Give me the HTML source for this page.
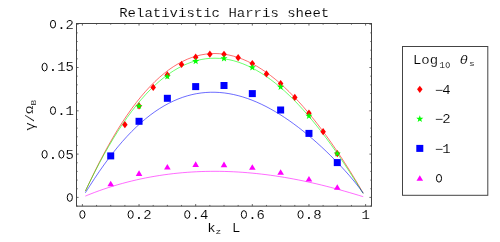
<!DOCTYPE html>
<html><head><meta charset="utf-8"><title>Relativistic Harris sheet</title>
<style>html,body{margin:0;padding:0;background:#fff;}svg{display:block;}</style></head>
<body>
<svg width="500" height="242" viewBox="0 0 500 242" font-family="'Liberation Mono', monospace" fill="#000">
<rect width="500" height="242" fill="#fff"/>
<path d="M85.37,191.13 C86.15,189.49 88.46,184.55 90.00,181.33 C91.55,178.11 93.09,174.92 94.63,171.79 C96.18,168.67 97.72,165.60 99.26,162.59 C100.81,159.58 102.35,156.63 103.89,153.75 C105.44,150.86 106.98,148.04 108.53,145.28 C110.07,142.52 111.61,139.82 113.16,137.19 C114.70,134.55 116.24,131.98 117.79,129.48 C119.33,126.98 120.87,124.53 122.42,122.16 C123.96,119.78 125.50,117.47 127.05,115.22 C128.59,112.98 130.13,110.79 131.68,108.67 C133.22,106.55 134.76,104.50 136.31,102.51 C137.85,100.51 139.39,98.59 140.94,96.72 C142.48,94.86 144.02,93.06 145.57,91.32 C147.11,89.58 148.65,87.90 150.20,86.29 C151.74,84.68 153.28,83.12 154.83,81.64 C156.37,80.15 157.92,78.72 159.46,77.35 C161.00,75.99 162.55,74.68 164.09,73.44 C165.63,72.19 167.18,71.01 168.72,69.88 C170.26,68.76 171.81,67.70 173.35,66.69 C174.89,65.69 176.44,64.74 177.98,63.86 C179.52,62.97 181.07,62.15 182.61,61.38 C184.15,60.61 185.70,59.90 187.24,59.24 C188.78,58.59 190.33,57.99 191.87,57.45 C193.41,56.91 194.96,56.43 196.50,56.00 C198.04,55.58 199.59,55.21 201.13,54.89 C202.68,54.57 204.22,54.31 205.76,54.11 C207.31,53.90 208.85,53.75 210.39,53.66 C211.94,53.56 213.48,53.52 215.02,53.52 C216.57,53.53 218.11,53.60 219.65,53.71 C221.20,53.83 222.74,54.00 224.28,54.22 C225.83,54.44 227.37,54.71 228.91,55.03 C230.46,55.35 232.00,55.72 233.54,56.15 C235.09,56.57 236.63,57.04 238.17,57.57 C239.72,58.09 241.26,58.66 242.80,59.28 C244.35,59.90 245.89,60.57 247.43,61.29 C248.98,62.01 250.52,62.77 252.07,63.58 C253.61,64.40 255.15,65.26 256.70,66.16 C258.24,67.07 259.78,68.02 261.33,69.02 C262.87,70.01 264.41,71.06 265.96,72.14 C267.50,73.23 269.04,74.37 270.59,75.54 C272.13,76.72 273.67,77.94 275.22,79.20 C276.76,80.47 278.30,81.77 279.85,83.12 C281.39,84.47 282.93,85.87 284.48,87.30 C286.02,88.73 287.56,90.21 289.11,91.73 C290.65,93.24 292.19,94.80 293.74,96.40 C295.28,98.00 296.82,99.63 298.37,101.31 C299.91,102.99 301.46,104.71 303.00,106.46 C304.54,108.22 306.09,110.01 307.63,111.84 C309.17,113.67 310.72,115.54 312.26,117.45 C313.80,119.36 315.35,121.30 316.89,123.28 C318.43,125.27 319.98,127.28 321.52,129.34 C323.06,131.39 324.61,133.48 326.15,135.60 C327.69,137.73 329.24,139.89 330.78,142.08 C332.32,144.27 333.87,146.50 335.41,148.77 C336.95,151.03 338.50,153.33 340.04,155.66 C341.58,157.99 343.13,160.35 344.67,162.75 C346.21,165.14 347.76,167.57 349.30,170.04 C350.85,172.50 352.39,175.00 353.93,177.53 C355.48,180.06 357.02,182.62 358.56,185.22 C360.11,187.83 362.42,191.83 363.19,193.15" fill="none" stroke="#ff0000" stroke-width="0.58"/>
<path d="M85.37,191.15 C86.15,189.55 88.46,184.70 90.00,181.55 C91.55,178.40 93.09,175.30 94.63,172.27 C96.18,169.23 97.72,166.26 99.26,163.34 C100.81,160.43 102.35,157.58 103.89,154.79 C105.44,152.00 106.98,149.27 108.53,146.61 C110.07,143.94 111.61,141.34 113.16,138.80 C114.70,136.26 116.24,133.79 117.79,131.37 C119.33,128.96 120.87,126.61 122.42,124.32 C123.96,122.03 125.50,119.81 127.05,117.64 C128.59,115.48 130.13,113.38 131.68,111.34 C133.22,109.30 134.76,107.32 136.31,105.40 C137.85,103.49 139.39,101.63 140.94,99.84 C142.48,98.04 144.02,96.31 145.57,94.64 C147.11,92.97 148.65,91.35 150.20,89.80 C151.74,88.25 153.28,86.76 154.83,85.32 C156.37,83.89 157.92,82.51 159.46,81.20 C161.00,79.88 162.55,78.63 164.09,77.43 C165.63,76.23 167.18,75.09 168.72,74.01 C170.26,72.93 171.81,71.90 173.35,70.93 C174.89,69.97 176.44,69.05 177.98,68.20 C179.52,67.35 181.07,66.55 182.61,65.81 C184.15,65.06 185.70,64.38 187.24,63.75 C188.78,63.12 190.33,62.54 191.87,62.02 C193.41,61.50 194.96,61.03 196.50,60.62 C198.04,60.20 199.59,59.85 201.13,59.54 C202.68,59.23 204.22,58.98 205.76,58.78 C207.31,58.58 208.85,58.43 210.39,58.34 C211.94,58.24 213.48,58.20 215.02,58.21 C216.57,58.22 218.11,58.28 219.65,58.39 C221.20,58.50 222.74,58.66 224.28,58.87 C225.83,59.08 227.37,59.34 228.91,59.65 C230.46,59.96 232.00,60.32 233.54,60.73 C235.09,61.14 236.63,61.60 238.17,62.10 C239.72,62.60 241.26,63.16 242.80,63.76 C244.35,64.36 245.89,65.01 247.43,65.70 C248.98,66.39 250.52,67.13 252.07,67.92 C253.61,68.71 255.15,69.54 256.70,70.42 C258.24,71.30 259.78,72.22 261.33,73.19 C262.87,74.15 264.41,75.17 265.96,76.22 C267.50,77.28 269.04,78.38 270.59,79.52 C272.13,80.66 273.67,81.85 275.22,83.08 C276.76,84.31 278.30,85.58 279.85,86.89 C281.39,88.20 282.93,89.56 284.48,90.95 C286.02,92.35 287.56,93.79 289.11,95.26 C290.65,96.74 292.19,98.26 293.74,99.81 C295.28,101.37 296.82,102.96 298.37,104.60 C299.91,106.23 301.46,107.90 303.00,109.62 C304.54,111.33 306.09,113.08 307.63,114.86 C309.17,116.65 310.72,118.47 312.26,120.33 C313.80,122.19 315.35,124.09 316.89,126.02 C318.43,127.95 319.98,129.92 321.52,131.92 C323.06,133.92 324.61,135.96 326.15,138.03 C327.69,140.09 329.24,142.20 330.78,144.34 C332.32,146.47 333.87,148.64 335.41,150.84 C336.95,153.04 338.50,155.28 340.04,157.54 C341.58,159.80 343.13,162.10 344.67,164.42 C346.21,166.74 347.76,169.09 349.30,171.47 C350.85,173.85 352.39,176.26 353.93,178.69 C355.48,181.12 357.02,183.58 358.56,186.05 C360.11,188.53 362.42,192.28 363.19,193.53" fill="none" stroke="#00ff00" stroke-width="0.58"/>
<path d="M85.37,192.80 C86.15,191.59 88.46,187.92 90.00,185.52 C91.55,183.13 93.09,180.75 94.63,178.42 C96.18,176.09 97.72,173.80 99.26,171.56 C100.81,169.32 102.35,167.12 103.89,164.97 C105.44,162.82 106.98,160.71 108.53,158.66 C110.07,156.60 111.61,154.60 113.16,152.64 C114.70,150.68 116.24,148.77 117.79,146.92 C119.33,145.06 120.87,143.25 122.42,141.49 C123.96,139.73 125.50,138.02 127.05,136.36 C128.59,134.70 130.13,133.09 131.68,131.53 C133.22,129.97 134.76,128.45 136.31,126.99 C137.85,125.53 139.39,124.11 140.94,122.75 C142.48,121.38 144.02,120.06 145.57,118.80 C147.11,117.53 148.65,116.31 150.20,115.13 C151.74,113.96 153.28,112.84 154.83,111.76 C156.37,110.68 157.92,109.65 159.46,108.67 C161.00,107.68 162.55,106.74 164.09,105.85 C165.63,104.96 167.18,104.12 168.72,103.31 C170.26,102.51 171.81,101.76 173.35,101.05 C174.89,100.34 176.44,99.67 177.98,99.05 C179.52,98.43 181.07,97.86 182.61,97.32 C184.15,96.79 185.70,96.30 187.24,95.85 C188.78,95.40 190.33,95.00 191.87,94.64 C193.41,94.27 194.96,93.95 196.50,93.67 C198.04,93.39 199.59,93.16 201.13,92.96 C202.68,92.76 204.22,92.60 205.76,92.49 C207.31,92.37 208.85,92.29 210.39,92.25 C211.94,92.22 213.48,92.22 215.02,92.26 C216.57,92.30 218.11,92.38 219.65,92.49 C221.20,92.61 222.74,92.76 224.28,92.95 C225.83,93.14 227.37,93.37 228.91,93.63 C230.46,93.89 232.00,94.19 233.54,94.53 C235.09,94.86 236.63,95.23 238.17,95.64 C239.72,96.04 241.26,96.48 242.80,96.95 C244.35,97.43 245.89,97.93 247.43,98.47 C248.98,99.01 250.52,99.59 252.07,100.19 C253.61,100.80 255.15,101.43 256.70,102.10 C258.24,102.77 259.78,103.47 261.33,104.21 C262.87,104.94 264.41,105.70 265.96,106.49 C267.50,107.28 269.04,108.11 270.59,108.96 C272.13,109.81 273.67,110.69 275.22,111.60 C276.76,112.51 278.30,113.45 279.85,114.42 C281.39,115.39 282.93,116.38 284.48,117.41 C286.02,118.43 287.56,119.48 289.11,120.56 C290.65,121.63 292.19,122.74 293.74,123.87 C295.28,124.99 296.82,126.15 298.37,127.33 C299.91,128.51 301.46,129.72 303.00,130.95 C304.54,132.19 306.09,133.44 307.63,134.73 C309.17,136.01 310.72,137.32 312.26,138.65 C313.80,139.98 315.35,141.34 316.89,142.72 C318.43,144.10 319.98,145.50 321.52,146.93 C323.06,148.36 324.61,149.82 326.15,151.30 C327.69,152.78 329.24,154.28 330.78,155.81 C332.32,157.34 333.87,158.89 335.41,160.48 C336.95,162.06 338.50,163.67 340.04,165.31 C341.58,166.95 343.13,168.62 344.67,170.32 C346.21,172.02 347.76,173.75 349.30,175.53 C350.85,177.31 352.39,179.12 353.93,180.99 C355.48,182.87 357.02,184.76 358.56,186.79 C360.11,188.83 362.42,192.14 363.19,193.21" fill="none" stroke="#0000ff" stroke-width="0.58"/>
<path d="M85.37,196.09 C86.15,195.77 88.46,194.80 90.00,194.19 C91.55,193.57 93.09,192.98 94.63,192.40 C96.18,191.82 97.72,191.25 99.26,190.70 C100.81,190.15 102.35,189.61 103.89,189.08 C105.44,188.56 106.98,188.05 108.53,187.55 C110.07,187.05 111.61,186.57 113.16,186.09 C114.70,185.62 116.24,185.16 117.79,184.71 C119.33,184.27 120.87,183.83 122.42,183.41 C123.96,182.99 125.50,182.58 127.05,182.18 C128.59,181.78 130.13,181.39 131.68,181.02 C133.22,180.64 134.76,180.28 136.31,179.93 C137.85,179.58 139.39,179.24 140.94,178.91 C142.48,178.58 144.02,178.26 145.57,177.95 C147.11,177.65 148.65,177.35 150.20,177.07 C151.74,176.79 153.28,176.51 154.83,176.25 C156.37,175.99 157.92,175.74 159.46,175.50 C161.00,175.26 162.55,175.03 164.09,174.81 C165.63,174.59 167.18,174.38 168.72,174.19 C170.26,173.99 171.81,173.80 173.35,173.62 C174.89,173.45 176.44,173.28 177.98,173.13 C179.52,172.97 181.07,172.83 182.61,172.69 C184.15,172.56 185.70,172.43 187.24,172.32 C188.78,172.20 190.33,172.10 191.87,172.00 C193.41,171.91 194.96,171.82 196.50,171.75 C198.04,171.67 199.59,171.61 201.13,171.55 C202.68,171.49 204.22,171.45 205.76,171.41 C207.31,171.38 208.85,171.35 210.39,171.33 C211.94,171.32 213.48,171.31 215.02,171.31 C216.57,171.31 218.11,171.32 219.65,171.34 C221.20,171.36 222.74,171.39 224.28,171.43 C225.83,171.47 227.37,171.52 228.91,171.58 C230.46,171.63 232.00,171.70 233.54,171.78 C235.09,171.85 236.63,171.94 238.17,172.03 C239.72,172.12 241.26,172.23 242.80,172.34 C244.35,172.45 245.89,172.57 247.43,172.69 C248.98,172.82 250.52,172.96 252.07,173.11 C253.61,173.25 255.15,173.41 256.70,173.57 C258.24,173.73 259.78,173.90 261.33,174.08 C262.87,174.26 264.41,174.45 265.96,174.64 C267.50,174.84 269.04,175.04 270.59,175.26 C272.13,175.47 273.67,175.69 275.22,175.92 C276.76,176.15 278.30,176.38 279.85,176.63 C281.39,176.87 282.93,177.12 284.48,177.38 C286.02,177.64 287.56,177.91 289.11,178.19 C290.65,178.46 292.19,178.74 293.74,179.04 C295.28,179.33 296.82,179.62 298.37,179.93 C299.91,180.24 301.46,180.55 303.00,180.87 C304.54,181.19 306.09,181.52 307.63,181.85 C309.17,182.19 310.72,182.53 312.26,182.88 C313.80,183.23 315.35,183.58 316.89,183.95 C318.43,184.31 319.98,184.68 321.52,185.06 C323.06,185.43 324.61,185.82 326.15,186.21 C327.69,186.60 329.24,186.99 330.78,187.40 C332.32,187.80 333.87,188.21 335.41,188.63 C336.95,189.04 338.50,189.46 340.04,189.89 C341.58,190.32 343.13,190.75 344.67,191.19 C346.21,191.63 347.76,192.07 349.30,192.52 C350.85,192.97 352.39,193.43 353.93,193.89 C355.48,194.35 357.02,194.81 358.56,195.28 C360.11,195.74 362.42,196.45 363.19,196.68" fill="none" stroke="#ff00ff" stroke-width="0.58"/>
<polygon points="124.88,121.05 127.63,124.70 124.88,128.35 122.13,124.70" fill="#ff0000"/>
<polygon points="139.04,102.25 141.79,105.90 139.04,109.55 136.29,105.90" fill="#ff0000"/>
<polygon points="153.20,83.75 155.95,87.40 153.20,91.05 150.45,87.40" fill="#ff0000"/>
<polygon points="167.36,71.35 170.11,75.00 167.36,78.65 164.61,75.00" fill="#ff0000"/>
<polygon points="181.52,60.75 184.27,64.40 181.52,68.05 178.77,64.40" fill="#ff0000"/>
<polygon points="195.68,53.55 198.43,57.20 195.68,60.85 192.93,57.20" fill="#ff0000"/>
<polygon points="209.84,50.55 212.59,54.20 209.84,57.85 207.09,54.20" fill="#ff0000"/>
<polygon points="224.00,50.65 226.75,54.30 224.00,57.95 221.25,54.30" fill="#ff0000"/>
<polygon points="238.16,54.05 240.91,57.70 238.16,61.35 235.41,57.70" fill="#ff0000"/>
<polygon points="252.32,59.95 255.07,63.60 252.32,67.25 249.57,63.60" fill="#ff0000"/>
<polygon points="266.48,70.25 269.23,73.90 266.48,77.55 263.73,73.90" fill="#ff0000"/>
<polygon points="280.64,79.95 283.39,83.60 280.64,87.25 277.89,83.60" fill="#ff0000"/>
<polygon points="294.80,93.75 297.55,97.40 294.80,101.05 292.05,97.40" fill="#ff0000"/>
<polygon points="308.96,109.55 311.71,113.20 308.96,116.85 306.21,113.20" fill="#ff0000"/>
<polygon points="323.12,128.05 325.87,131.70 323.12,135.35 320.37,131.70" fill="#ff0000"/>
<polygon points="337.28,149.95 340.03,153.60 337.28,157.25 334.53,153.60" fill="#ff0000"/>
<polygon points="139.04,102.40 139.92,104.89 142.56,104.96 140.47,106.56 141.21,109.09 139.04,107.60 136.87,109.09 137.61,106.56 135.52,104.96 138.16,104.89" fill="#00ff00"/>
<polygon points="167.36,72.90 168.24,75.39 170.88,75.46 168.79,77.06 169.53,79.59 167.36,78.10 165.19,79.59 165.93,77.06 163.84,75.46 166.48,75.39" fill="#00ff00"/>
<polygon points="195.68,57.50 196.56,59.99 199.20,60.06 197.11,61.66 197.85,64.19 195.68,62.70 193.51,64.19 194.25,61.66 192.16,60.06 194.80,59.99" fill="#00ff00"/>
<polygon points="224.00,54.70 224.88,57.19 227.52,57.26 225.43,58.86 226.17,61.39 224.00,59.90 221.83,61.39 222.57,58.86 220.48,57.26 223.12,57.19" fill="#00ff00"/>
<polygon points="252.32,63.80 253.20,66.29 255.84,66.36 253.75,67.96 254.49,70.49 252.32,69.00 250.15,70.49 250.89,67.96 248.80,66.36 251.44,66.29" fill="#00ff00"/>
<polygon points="280.64,83.30 281.52,85.79 284.16,85.86 282.07,87.46 282.81,89.99 280.64,88.50 278.47,89.99 279.21,87.46 277.12,85.86 279.76,85.79" fill="#00ff00"/>
<polygon points="308.96,112.30 309.84,114.79 312.48,114.86 310.39,116.46 311.13,118.99 308.96,117.50 306.79,118.99 307.53,116.46 305.44,114.86 308.08,114.79" fill="#00ff00"/>
<polygon points="337.28,149.90 338.16,152.39 340.80,152.46 338.71,154.06 339.45,156.59 337.28,155.10 335.11,156.59 335.85,154.06 333.76,152.46 336.40,152.39" fill="#00ff00"/>
<rect x="107.22" y="152.40" width="7.00" height="7.00" fill="#0000ff"/>
<rect x="135.54" y="117.80" width="7.00" height="7.00" fill="#0000ff"/>
<rect x="163.86" y="94.80" width="7.00" height="7.00" fill="#0000ff"/>
<rect x="192.18" y="83.10" width="7.00" height="7.00" fill="#0000ff"/>
<rect x="220.50" y="82.00" width="7.00" height="7.00" fill="#0000ff"/>
<rect x="248.82" y="90.10" width="7.00" height="7.00" fill="#0000ff"/>
<rect x="277.14" y="106.50" width="7.00" height="7.00" fill="#0000ff"/>
<rect x="305.46" y="129.90" width="7.00" height="7.00" fill="#0000ff"/>
<rect x="333.78" y="159.10" width="7.00" height="7.00" fill="#0000ff"/>
<polygon points="110.72,180.70 114.02,186.30 107.42,186.30" fill="#ff00ff"/>
<polygon points="139.04,170.30 142.34,175.90 135.74,175.90" fill="#ff00ff"/>
<polygon points="167.36,163.90 170.66,169.50 164.06,169.50" fill="#ff00ff"/>
<polygon points="195.68,161.30 198.98,166.90 192.38,166.90" fill="#ff00ff"/>
<polygon points="224.00,161.60 227.30,167.20 220.70,167.20" fill="#ff00ff"/>
<polygon points="252.32,164.20 255.62,169.80 249.02,169.80" fill="#ff00ff"/>
<polygon points="280.64,169.20 283.94,174.80 277.34,174.80" fill="#ff00ff"/>
<polygon points="308.96,175.90 312.26,181.50 305.66,181.50" fill="#ff00ff"/>
<polygon points="337.28,184.20 340.58,189.80 333.98,189.80" fill="#ff00ff"/>
<rect x="76.50" y="23.50" width="295.00" height="182.65" fill="none" stroke="#444444" stroke-width="1"/>
<path d="M82.40,206.15 v-2.10 M82.40,23.50 v2.10 M96.56,206.15 v-1.20 M96.56,23.50 v1.20 M110.72,206.15 v-1.20 M110.72,23.50 v1.20 M124.88,206.15 v-1.20 M124.88,23.50 v1.20 M139.04,206.15 v-2.10 M139.04,23.50 v2.10 M153.20,206.15 v-1.20 M153.20,23.50 v1.20 M167.36,206.15 v-1.20 M167.36,23.50 v1.20 M181.52,206.15 v-1.20 M181.52,23.50 v1.20 M195.68,206.15 v-2.10 M195.68,23.50 v2.10 M209.84,206.15 v-1.20 M209.84,23.50 v1.20 M224.00,206.15 v-1.20 M224.00,23.50 v1.20 M238.16,206.15 v-1.20 M238.16,23.50 v1.20 M252.32,206.15 v-2.10 M252.32,23.50 v2.10 M266.48,206.15 v-1.20 M266.48,23.50 v1.20 M280.64,206.15 v-1.20 M280.64,23.50 v1.20 M294.80,206.15 v-1.20 M294.80,23.50 v1.20 M308.96,206.15 v-2.10 M308.96,23.50 v2.10 M323.12,206.15 v-1.20 M323.12,23.50 v1.20 M337.28,206.15 v-1.20 M337.28,23.50 v1.20 M351.44,206.15 v-1.20 M351.44,23.50 v1.20 M365.60,206.15 v-2.10 M365.60,23.50 v2.10 M76.50,206.06 h1.20 M371.50,206.06 h-1.20 M76.50,197.40 h2.10 M371.50,197.40 h-2.10 M76.50,188.74 h1.20 M371.50,188.74 h-1.20 M76.50,180.08 h1.20 M371.50,180.08 h-1.20 M76.50,171.42 h1.20 M371.50,171.42 h-1.20 M76.50,162.76 h1.20 M371.50,162.76 h-1.20 M76.50,154.10 h2.10 M371.50,154.10 h-2.10 M76.50,145.44 h1.20 M371.50,145.44 h-1.20 M76.50,136.78 h1.20 M371.50,136.78 h-1.20 M76.50,128.12 h1.20 M371.50,128.12 h-1.20 M76.50,119.46 h1.20 M371.50,119.46 h-1.20 M76.50,110.80 h2.10 M371.50,110.80 h-2.10 M76.50,102.14 h1.20 M371.50,102.14 h-1.20 M76.50,93.48 h1.20 M371.50,93.48 h-1.20 M76.50,84.82 h1.20 M371.50,84.82 h-1.20 M76.50,76.16 h1.20 M371.50,76.16 h-1.20 M76.50,67.50 h2.10 M371.50,67.50 h-2.10 M76.50,58.84 h1.20 M371.50,58.84 h-1.20 M76.50,50.18 h1.20 M371.50,50.18 h-1.20 M76.50,41.52 h1.20 M371.50,41.52 h-1.20 M76.50,32.86 h1.20 M371.50,32.86 h-1.20 M76.50,24.20 h2.10 M371.50,24.20 h-2.10" stroke="#444444" stroke-width="0.8" fill="none"/>
<rect x="402.5" y="46.5" width="85.3" height="148.8" fill="#fff" stroke="#444444" stroke-width="1"/>
<polygon points="419.80,85.65 422.55,89.30 419.80,92.95 417.05,89.30" fill="#ff0000"/>
<polygon points="419.80,115.30 420.68,117.79 423.32,117.86 421.23,119.46 421.97,121.99 419.80,120.50 417.63,121.99 418.37,119.46 416.28,117.86 418.92,117.79" fill="#00ff00"/>
<rect x="416.30" y="144.90" width="7.00" height="7.00" fill="#0000ff"/>
<polygon points="419.80,175.20 423.10,180.80 416.50,180.80" fill="#ff00ff"/>
<g stroke="#fff" stroke-width="0.12" opacity="0.999">
<ellipse cx="53.00" cy="24.18" rx="2.58" ry="3.87" fill="none" stroke="#000" stroke-width="1.00"/><text transform="translate(61.40,28.50) scale(1,0.850)" font-size="14" text-anchor="middle" stroke="none" >.</text><text transform="translate(69.80,28.50) scale(1,0.920)" font-size="14" text-anchor="middle" >2</text>
<ellipse cx="44.60" cy="67.08" rx="2.58" ry="3.87" fill="none" stroke="#000" stroke-width="1.00"/><text transform="translate(53.00,71.40) scale(1,0.850)" font-size="14" text-anchor="middle" stroke="none" >.</text><text transform="translate(61.40,71.40) scale(1,0.920)" font-size="14" text-anchor="middle" >1</text><text transform="translate(69.80,71.40) scale(1,0.920)" font-size="14" text-anchor="middle" >5</text>
<ellipse cx="53.00" cy="110.58" rx="2.58" ry="3.87" fill="none" stroke="#000" stroke-width="1.00"/><text transform="translate(61.40,114.90) scale(1,0.850)" font-size="14" text-anchor="middle" stroke="none" >.</text><text transform="translate(69.80,114.90) scale(1,0.920)" font-size="14" text-anchor="middle" >1</text>
<ellipse cx="44.60" cy="154.28" rx="2.58" ry="3.87" fill="none" stroke="#000" stroke-width="1.00"/><text transform="translate(53.00,158.60) scale(1,0.850)" font-size="14" text-anchor="middle" stroke="none" >.</text><ellipse cx="61.40" cy="154.28" rx="2.58" ry="3.87" fill="none" stroke="#000" stroke-width="1.00"/><text transform="translate(69.80,158.60) scale(1,0.920)" font-size="14" text-anchor="middle" >5</text>
<ellipse cx="69.80" cy="197.48" rx="2.58" ry="3.87" fill="none" stroke="#000" stroke-width="1.00"/>
<ellipse cx="82.40" cy="214.48" rx="2.58" ry="3.87" fill="none" stroke="#000" stroke-width="1.00"/>
<ellipse cx="130.64" cy="214.48" rx="2.58" ry="3.87" fill="none" stroke="#000" stroke-width="1.00"/><text transform="translate(139.04,218.80) scale(1,0.850)" font-size="14" text-anchor="middle" stroke="none" >.</text><text transform="translate(147.44,218.80) scale(1,0.920)" font-size="14" text-anchor="middle" >2</text>
<ellipse cx="187.28" cy="214.48" rx="2.58" ry="3.87" fill="none" stroke="#000" stroke-width="1.00"/><text transform="translate(195.68,218.80) scale(1,0.850)" font-size="14" text-anchor="middle" stroke="none" >.</text><text transform="translate(204.08,218.80) scale(1,0.920)" font-size="14" text-anchor="middle" >4</text>
<ellipse cx="243.92" cy="214.48" rx="2.58" ry="3.87" fill="none" stroke="#000" stroke-width="1.00"/><text transform="translate(252.32,218.80) scale(1,0.850)" font-size="14" text-anchor="middle" stroke="none" >.</text><text transform="translate(260.72,218.80) scale(1,0.920)" font-size="14" text-anchor="middle" >6</text>
<ellipse cx="300.56" cy="214.48" rx="2.58" ry="3.87" fill="none" stroke="#000" stroke-width="1.00"/><text transform="translate(308.96,218.80) scale(1,0.850)" font-size="14" text-anchor="middle" stroke="none" >.</text><text transform="translate(317.36,218.80) scale(1,0.920)" font-size="14" text-anchor="middle" >8</text>
<text transform="translate(365.60,218.80) scale(1,0.920)" font-size="14" text-anchor="middle" >1</text>
<text transform="translate(123.40,16.50) scale(1,0.850)" font-size="14" text-anchor="middle" >R</text><text transform="translate(131.80,16.50) scale(1,0.850)" font-size="14" text-anchor="middle" >e</text><text transform="translate(140.20,16.50) scale(1,0.850)" font-size="14" text-anchor="middle" >l</text><text transform="translate(148.60,16.50) scale(1,0.850)" font-size="14" text-anchor="middle" >a</text><text transform="translate(157.00,16.50) scale(1,0.850)" font-size="14" text-anchor="middle" >t</text><text transform="translate(165.40,16.50) scale(1,0.850)" font-size="14" text-anchor="middle" >i</text><text transform="translate(173.80,16.50) scale(1,0.850)" font-size="14" text-anchor="middle" >v</text><text transform="translate(182.20,16.50) scale(1,0.850)" font-size="14" text-anchor="middle" >i</text><text transform="translate(190.60,16.50) scale(1,0.850)" font-size="14" text-anchor="middle" >s</text><text transform="translate(199.00,16.50) scale(1,0.850)" font-size="14" text-anchor="middle" >t</text><text transform="translate(207.40,16.50) scale(1,0.850)" font-size="14" text-anchor="middle" >i</text><text transform="translate(215.80,16.50) scale(1,0.850)" font-size="14" text-anchor="middle" >c</text><text transform="translate(232.60,16.50) scale(1,0.850)" font-size="14" text-anchor="middle" >H</text><text transform="translate(241.00,16.50) scale(1,0.850)" font-size="14" text-anchor="middle" >a</text><text transform="translate(249.40,16.50) scale(1,0.850)" font-size="14" text-anchor="middle" >r</text><text transform="translate(257.80,16.50) scale(1,0.850)" font-size="14" text-anchor="middle" >r</text><text transform="translate(266.20,16.50) scale(1,0.850)" font-size="14" text-anchor="middle" >i</text><text transform="translate(274.60,16.50) scale(1,0.850)" font-size="14" text-anchor="middle" >s</text><text transform="translate(291.40,16.50) scale(1,0.850)" font-size="14" text-anchor="middle" >s</text><text transform="translate(299.80,16.50) scale(1,0.850)" font-size="14" text-anchor="middle" >h</text><text transform="translate(308.20,16.50) scale(1,0.850)" font-size="14" text-anchor="middle" >e</text><text transform="translate(316.60,16.50) scale(1,0.850)" font-size="14" text-anchor="middle" >e</text><text transform="translate(325.00,16.50) scale(1,0.850)" font-size="14" text-anchor="middle" >t</text>
<text transform="translate(211.50,232.30) scale(1,0.850)" font-size="14" text-anchor="middle" >k</text>
<text transform="translate(218.45,233.80) scale(1,0.850)" font-size="9.5" text-anchor="middle" >z</text>
<text transform="translate(236.20,232.30) scale(1,0.850)" font-size="14" text-anchor="middle" >L</text>
<g transform="translate(32.8,130.7) rotate(-90)">
<text transform="translate(4.20,1.40) scale(1,0.850)" font-size="14" text-anchor="middle" >&#947;</text>
<text transform="translate(12.60,1.00) scale(1,0.850)" font-size="14" text-anchor="middle" >/</text>
<text transform="translate(21.00,0.40) scale(1,0.780)" font-size="14" text-anchor="middle" >&#937;</text>
<text transform="translate(28.05,3.60) scale(1,0.850)" font-size="9.5" text-anchor="middle" >B</text>
</g>
<text transform="translate(417.10,64.40) scale(1,0.850)" font-size="14" text-anchor="middle" >L</text><text transform="translate(425.50,64.40) scale(1,0.850)" font-size="14" text-anchor="middle" >o</text><text transform="translate(433.90,64.40) scale(1,0.850)" font-size="14" text-anchor="middle" >g</text>
<text transform="translate(442.05,68.00) scale(1,0.920)" font-size="9.5" text-anchor="middle" >1</text><ellipse cx="447.75" cy="65.08" rx="1.75" ry="2.63" fill="none" stroke="#000" stroke-width="0.68"/>
<text transform="translate(463.80,64.40) scale(1,0.850)" font-size="14" text-anchor="middle" font-style="italic">&#952;</text>
<text transform="translate(471.85,66.20) scale(1,0.850)" font-size="9.5" text-anchor="middle" >s</text>
<text transform="translate(439.00,93.60) scale(1,0.850)" font-size="14" text-anchor="middle" >&#8722;</text><text transform="translate(446.40,93.60) scale(1,0.920)" font-size="14" text-anchor="middle" >4</text>
<text transform="translate(439.00,123.30) scale(1,0.850)" font-size="14" text-anchor="middle" >&#8722;</text><text transform="translate(446.40,123.30) scale(1,0.920)" font-size="14" text-anchor="middle" >2</text>
<text transform="translate(439.00,153.00) scale(1,0.850)" font-size="14" text-anchor="middle" >&#8722;</text><text transform="translate(446.40,153.00) scale(1,0.920)" font-size="14" text-anchor="middle" >1</text>
<ellipse cx="439.00" cy="178.28" rx="2.58" ry="3.87" fill="none" stroke="#000" stroke-width="1.00"/>
</g>
</svg>
</body></html>
